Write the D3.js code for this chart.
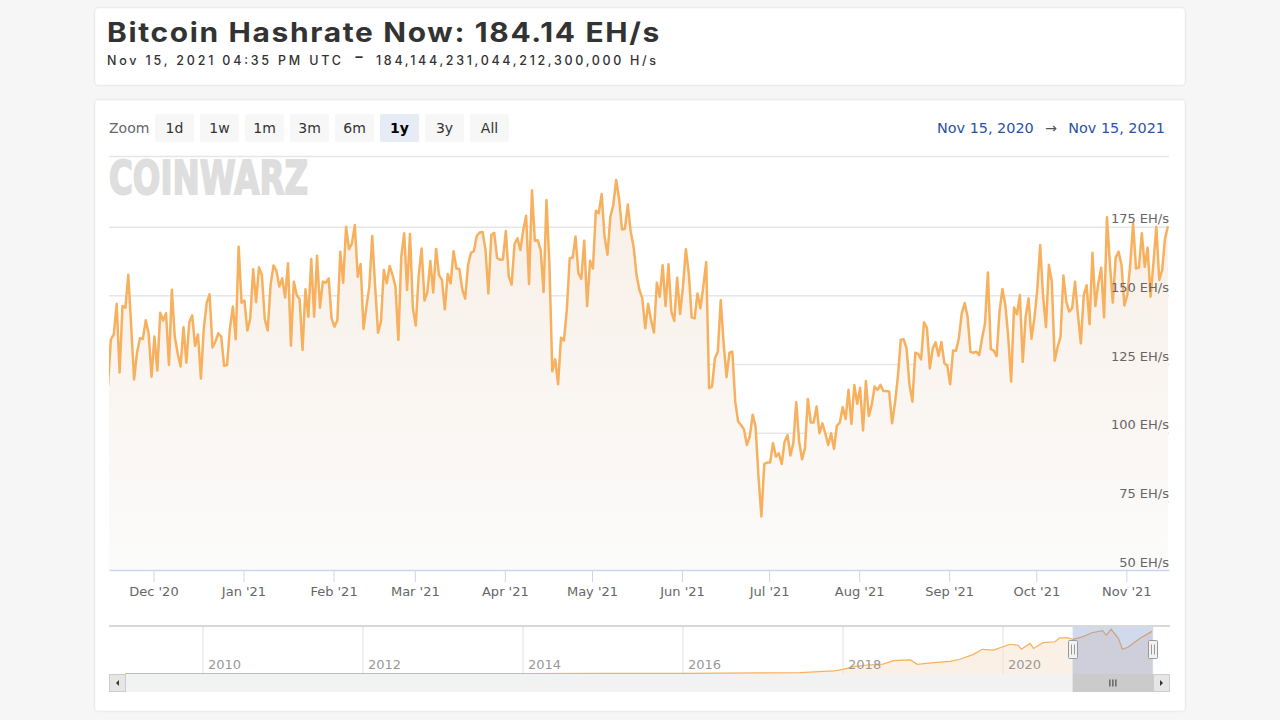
<!DOCTYPE html>
<html>
<head>
<meta charset="utf-8">
<title>Bitcoin Hashrate</title>
<script src="https://cdn.jsdelivr.net/npm/d3@7"></script>
<style>
    html, body { margin: 0; padding: 0; background: #f6f6f6; overflow: hidden; }
    text { font-family: "DejaVu Sans", sans-serif; }
    .head text { font-family: Inter, sans-serif; fill: #333; }
</style>
</head>
<body>
<div id="chart"></div>
<script>
// Daily hashrate in EH/s
const hashrateFromNov15 = [
    117.0, 134.0, 135.8, 146.9, 121.9, 146.1, 145.5, 157.5, 138.6, 119.4, 129.1, 134.4, 134.1, 140.9, 136.2, 120.4,
    135.0, 122.6, 143.7, 140.8, 143.5, 124.7, 152.0, 135.0, 128.9, 124.1, 138.4, 125.5, 140.1, 142.7, 131.6, 135.8,
    119.7, 138.0, 147.3, 150.4, 131.0, 133.2, 136.2, 135.0, 124.3, 124.7, 138.0, 145.9, 134.0, 167.7, 147.3, 148.1,
    137.2, 141.6, 159.5, 147.5, 160.2, 157.4, 141.3, 137.2, 153.8, 160.9, 159.0, 153.2, 156.2, 149.2, 161.7, 131.7,
    155.0, 150.1, 148.6, 130.1, 152.2, 142.2, 163.2, 142.2, 164.4, 145.5, 155.0, 154.6, 156.2, 141.6, 138.6, 141.0,
    165.9, 154.6, 175.0, 166.8, 168.9, 175.6, 156.8, 161.4, 137.8, 145.9, 153.2, 171.6, 153.2, 136.4, 140.4, 159.2,
    154.4, 160.7, 157.4, 153.2, 133.8, 164.1, 172.6, 152.0, 172.3, 145.3, 139.0, 157.4, 167.1, 148.1, 151.3, 162.5,
    151.0, 166.9, 157.4, 155.6
];
const hashrateFromMar11 = [
    144.9, 157.8, 154.4, 166.1, 159.8, 159.6, 152.2, 148.8, 161.0, 165.5, 166.1, 171.7, 172.9, 173.1, 166.5, 150.7,
    172.0, 172.8, 163.6, 163.0, 163.1, 173.4, 157.0, 153.9, 168.7, 170.8, 166.5, 173.8, 179.0, 154.1, 188.3, 169.9,
    170.1, 166.5, 151.2, 184.7, 161.7, 122.4, 126.7, 117.6, 134.6, 133.5, 144.7, 163.5, 163.7, 171.4, 158.0, 156.0,
    169.9, 146.1, 162.6, 159.8, 180.8, 179.9, 186.9, 171.4, 164.8, 178.6, 182.9, 192.0, 185.3, 174.0, 174.2, 183.1,
    173.2, 167.7, 157.4, 152.0, 148.9, 138.0, 146.9, 141.0, 136.5, 154.6, 149.5, 161.0, 146.1, 161.3, 144.1, 140.7,
    156.4, 143.2, 153.2, 166.8, 158.0, 142.0, 141.6, 150.7, 145.3, 153.2, 162.1, 116.2, 116.8, 127.1, 129.5, 148.3,
    132.5, 120.2, 129.1, 129.5, 111.3, 104.0, 102.8, 101.2, 95.5, 98.6, 106.5, 102.2, 84.0, 69.5, 88.6, 89.1,
    89.1, 96.2, 91.3, 92.5, 88.6, 96.8, 99.1, 91.7, 96.2, 111.1, 96.8
];
const hashrateFromJul12 = [
    90.3, 94.3, 112.3, 103.7, 103.7, 109.5, 99.8, 103.4, 99.8, 95.5, 99.8, 94.1, 102.5, 103.7, 109.3, 105.0,
    115.6, 103.2, 117.4, 110.5, 116.4, 100.8, 118.8, 106.1, 110.1, 116.8, 115.6, 117.4, 115.2, 115.2, 115.0, 103.4,
    110.7, 120.4, 133.8, 134.0, 130.7, 117.4, 111.3, 129.1, 128.7, 126.7, 140.2, 138.2, 123.4, 130.7, 132.9, 128.0,
    133.0, 125.3, 124.4, 117.6, 129.9, 129.8, 134.4, 143.5, 147.2, 142.2, 129.4, 129.1, 129.5, 128.3, 134.4, 139.8,
    158.3, 130.4, 129.9, 127.9, 144.1, 152.3, 146.5, 135.0, 118.6, 145.6, 143.1, 150.1, 125.8, 142.2, 148.9, 134.2,
    141.6, 152.0, 168.3, 149.5, 138.4, 161.1, 155.0, 126.2, 131.1, 135.0, 157.2, 147.7, 144.1, 145.3, 155.0, 142.9,
    132.5, 150.1, 153.7, 139.5, 165.5, 146.1, 154.4, 160.1, 142.0, 178.4, 161.7, 147.3, 163.8, 165.9, 161.1, 146.3,
    150.1, 161.1, 176.2, 159.8, 160.1, 172.6, 160.4, 167.4, 149.5, 161.7, 175.0, 155.6, 159.2, 170.8, 175.2
];

// All time history for the navigator, by decimal year
const navYears = [2009.03, 2012, 2014, 2015, 2016, 2017, 2017.46, 2017.88, 2018.0, 2018.13, 2018.3, 2018.5, 2018.63,
    2018.84, 2018.93, 2019.13, 2019.34, 2019.46, 2019.63, 2019.74, 2019.88, 2020.09, 2020.19, 2020.23, 2020.34,
    2020.38, 2020.5, 2020.65, 2020.71, 2020.81, 2020.88, 2021.0, 2021.11, 2021.24, 2021.29, 2021.35, 2021.44,
    2021.49, 2021.56, 2021.71, 2021.86];
const navValues = [0, 0, 0.1, 0.3, 0.8, 2.5, 3.5, 11, 18, 30, 37, 41, 56, 59, 40, 47, 53, 62, 83, 105, 102, 127, 122,
    106, 131, 109, 134, 138, 155, 155, 148, 160, 177, 186, 167, 192, 153, 105, 114, 153, 183];

const zoomLabels = ['1d', '1w', '1m', '3m', '6m', '1y', '3y', 'All'];
const selectedZoom = '1y';
const yTicks = [50, 75, 100, 125, 150, 175];
const navTickYears = [2010, 2012, 2014, 2016, 2018, 2020];
const xTickDates = [
    new Date(2020, 11, 1), new Date(2021, 0, 1), new Date(2021, 1, 1), new Date(2021, 2, 1),
    new Date(2021, 3, 1), new Date(2021, 4, 1), new Date(2021, 5, 1), new Date(2021, 6, 1),
    new Date(2021, 7, 1), new Date(2021, 8, 1), new Date(2021, 9, 1), new Date(2021, 10, 1)
];

const toSeries = (values, start) => values.map((value, i) => ({ date: d3.timeDay.offset(start, i), value }));
const hashrate = [].concat(
    toSeries(hashrateFromNov15, new Date(2020, 10, 15, 8)),
    toSeries(hashrateFromMar11, new Date(2021, 2, 11, 8)),
    toSeries(hashrateFromJul12, new Date(2021, 6, 12, 8))
);

const left = 109;
const right = 1169;
const svg = d3.select('#chart').append('svg').attr('width', 1280).attr('height', 720).style('display', 'block');
const defs = svg.append('defs');

// Cards
const card = (y, height) => svg.append('rect')
    .attr('x', 94.5).attr('y', y).attr('width', 1091).attr('height', height).attr('rx', 4)
    .attr('fill', '#fff').attr('stroke', '#ececec').attr('stroke-width', 1.5);
card(7.5, 78);
card(99.5, 612);

// Header
const head = svg.append('g').attr('class', 'head');
head.append('text').text('Bitcoin Hashrate Now: 184.14 EH/s')
    .attr('x', 107).attr('y', 42).style('font-size', '27px').style('font-weight', 700)
    .style('letter-spacing', '1.5px')
    .attr('textLength', 554).attr('lengthAdjust', 'spacingAndGlyphs');
head.append('text').text('Nov 15, 2021 04:35 PM UTC')
    .attr('x', 107).attr('y', 65).style('font-size', '12.5px').style('font-weight', 500)
    .attr('textLength', 234).attr('lengthAdjust', 'spacing');
head.append('text').text('-')
    .attr('x', 354).attr('y', 61).style('font-size', '13px').style('font-weight', 800)
    .attr('textLength', 10).attr('lengthAdjust', 'spacingAndGlyphs');
head.append('text').text('184,144,231,044,212,300,000 H/s')
    .attr('x', 376).attr('y', 65).style('font-size', '12.5px').style('font-weight', 500)
    .attr('textLength', 280).attr('lengthAdjust', 'spacing');

// Range selector
svg.append('text').text('Zoom').attr('x', 109).attr('y', 133)
    .style('font-size', '14px').attr('fill', '#666');
const zoomButtons = svg.selectAll('.zoom-button').data(zoomLabels).enter().append('g')
    .attr('class', 'zoom-button')
    .attr('transform', (d, i) => `translate(${155 + i * 45}, 114)`);
zoomButtons.append('rect').attr('width', 39).attr('height', 28).attr('rx', 2)
    .attr('fill', d => d === selectedZoom ? '#e6ebf5' : '#f7f7f7');
zoomButtons.append('text').text(d => d).attr('x', 19.5).attr('y', 19)
    .attr('text-anchor', 'middle').style('font-size', '14px')
    .style('font-weight', d => d === selectedZoom ? 'bold' : 'normal')
    .attr('fill', d => d === selectedZoom ? '#000' : '#333');

svg.append('text').text('Nov 15, 2020').attr('x', 937).attr('y', 133)
    .style('font-size', '14.4px').attr('fill', '#2b52a3');
svg.append('text').text('→').attr('x', 1051).attr('y', 133).attr('text-anchor', 'middle')
    .style('font-size', '14px').attr('fill', '#555');
svg.append('text').text('Nov 15, 2021').attr('x', 1165).attr('y', 133).attr('text-anchor', 'end')
    .style('font-size', '14.4px').attr('fill', '#2b52a3');
svg.append('line').attr('x1', left).attr('x2', right).attr('y1', 156.5).attr('y2', 156.5)
    .attr('stroke', '#e6e6e6').attr('stroke-width', 1.5);

// Scales
const x = d3.scaleTime()
    .domain([new Date(2020, 10, 15, 16, 35), new Date(2021, 10, 15, 16, 35)])
    .range([left, right]);
const y = d3.scaleLinear().domain([50, 175]).range([570, 226.7]);

defs.append('clipPath').attr('id', 'plot-clip').append('rect')
    .attr('x', left).attr('y', 157).attr('width', right - left).attr('height', 413);

const fillGradient = defs.append('linearGradient').attr('id', 'area-fill')
    .attr('gradientUnits', 'userSpaceOnUse')
    .attr('x1', 0).attr('x2', 0).attr('y1', 180).attr('y2', 570);
fillGradient.append('stop').attr('offset', '0%').attr('stop-color', '#f8efe6');
fillGradient.append('stop').attr('offset', '100%').attr('stop-color', '#fbfbfb');

// Logo
svg.append('text').text('COINWARZ').attr('x', 109).attr('y', 194)
    .style('font-size', '47px').style('font-weight', 'bold')
    .attr('textLength', 199).attr('lengthAdjust', 'spacingAndGlyphs')
    .attr('fill', '#dedede').attr('stroke', '#dedede').attr('stroke-width', 2);

// Grid lines
const yAxis = svg.append('g').attr('transform', `translate(${right}, 0)`)
    .call(d3.axisLeft(y).tickValues(yTicks).tickSize(right - left).tickFormat(''));
yAxis.select('.domain').remove();
yAxis.selectAll('.tick line').attr('stroke', '#e6e6e6').attr('stroke-width', 1.5);
yAxis.selectAll('.tick').filter(d => d === 50).select('line').remove();

// Area and line
const plot = svg.append('g').attr('clip-path', 'url(#plot-clip)');
plot.append('path').datum(hashrate)
    .attr('fill', 'url(#area-fill)')
    .attr('d', d3.area().x(d => x(d.date)).y0(570).y1(d => y(d.value)));
plot.append('path').datum(hashrate)
    .attr('fill', 'none').attr('stroke', '#f7b05e').attr('stroke-width', 2.5)
    .attr('stroke-linejoin', 'round')
    .attr('d', d3.line().x(d => x(d.date)).y(d => y(d.value)));

// y labels go over the line
svg.append('g').selectAll('text').data(yTicks).enter().append('text')
    .text(d => `${d} EH/s`).attr('x', right).attr('y', d => y(d) - 3.5)
    .attr('text-anchor', 'end').style('font-size', '13px').attr('fill', '#666');

// X axis
const xAxis = svg.append('g').attr('transform', 'translate(0, 570)')
    .call(d3.axisBottom(x).tickValues(xTickDates).tickSize(12).tickSizeOuter(0).tickPadding(5)
        .tickFormat(d3.timeFormat("%b '%y")));
xAxis.select('.domain').attr('stroke', '#ccd6eb').attr('stroke-width', 1.5);
xAxis.selectAll('.tick line').attr('stroke', '#ccd6eb');
xAxis.selectAll('.tick text').style('font-size', '13px').attr('fill', '#666');

// Navigator
const navTop = 626;
const navBottom = 674;
const yearToDate = year => new Date(Date.UTC(Math.floor(year), 0, 1) + (year - Math.floor(year)) * 365.25 * 864e5);
const navX = d3.scaleTime()
    .domain([yearToDate(2010), yearToDate(2020)])
    .range([203, 1003]);
const navY = d3.scaleLinear().domain([0, 192]).range([673.5, 629.3]);
const navData = navYears.map((year, i) => ({ date: yearToDate(year), value: navValues[i] }));

navTickYears.forEach(year => {
    const px = navX(yearToDate(year));
    svg.append('line').attr('x1', px).attr('x2', px).attr('y1', navTop).attr('y2', navBottom)
        .attr('stroke', '#e6e6e6').attr('stroke-width', 1.2);
});
svg.append('path').datum(navData).attr('fill', '#f7e4d0').attr('fill-opacity', 0.55)
    .attr('d', d3.area().x(d => navX(d.date)).y0(navBottom).y1(d => navY(d.value)));
svg.append('path').datum(navData).attr('fill', 'none').attr('stroke', '#f7b05e').attr('stroke-width', 1.2)
    .attr('d', d3.line().x(d => navX(d.date)).y(d => navY(d.value)));
svg.append('g').selectAll('text').data(navTickYears).enter().append('text')
    .text(d => d).attr('x', d => navX(yearToDate(d)) + 5).attr('y', 669)
    .style('font-size', '13px').attr('fill', '#999');
svg.append('line').attr('x1', left).attr('x2', right + 1).attr('y1', navTop).attr('y2', navTop)
    .attr('stroke', '#ccc').attr('stroke-width', 1.5);

const selStart = navX(yearToDate(2020.87));
const selEnd = navX(yearToDate(2021.875));
svg.append('rect').attr('x', selStart).attr('y', navTop + 1).attr('width', selEnd - selStart).attr('height', navBottom - navTop - 1)
    .attr('fill', '#6685c2').attr('fill-opacity', 0.3);

// Scrollbar
svg.append('rect').attr('x', left).attr('y', navBottom).attr('width', right + 1 - left).attr('height', 18).attr('fill', '#f2f2f2');
svg.append('rect').attr('x', selStart).attr('y', navBottom).attr('width', selEnd - selStart).attr('height', 18)
    .attr('fill', '#cbcbcb');
const scrollButton = (bx, points) => {
    svg.append('rect').attr('x', bx + 0.5).attr('y', navBottom + 0.5).attr('width', 16).attr('height', 17)
        .attr('fill', '#e6e6e6').attr('stroke', '#ccc');
    svg.append('path').attr('d', d3.line()(points.map(p => [bx + p[0], navBottom + p[1]]))).attr('fill', '#333');
};
scrollButton(left, [[10, 6], [10, 12], [7, 9]]);
scrollButton(right - 16, [[7, 6], [7, 12], [10, 9]]);
[-3, 0, 3].forEach(offset => {
    svg.append('line').attr('x1', (selStart + selEnd) / 2 + offset).attr('x2', (selStart + selEnd) / 2 + offset)
        .attr('y1', navBottom + 5.5).attr('y2', navBottom + 12.5).attr('stroke', '#333').attr('stroke-width', 1);
});

// Navigator handles
[selStart, selEnd].forEach(px => {
    const handle = svg.append('g').attr('transform', `translate(${Math.round(px) - 4.5}, 640.5)`);
    handle.append('rect').attr('width', 9).attr('height', 18).attr('rx', 1).attr('fill', '#f2f2f2').attr('stroke', '#999');
    [3, 6].forEach(lx => handle.append('line').attr('x1', lx).attr('x2', lx).attr('y1', 4).attr('y2', 14).attr('stroke', '#999'));
});
</script>
</body>
</html>
